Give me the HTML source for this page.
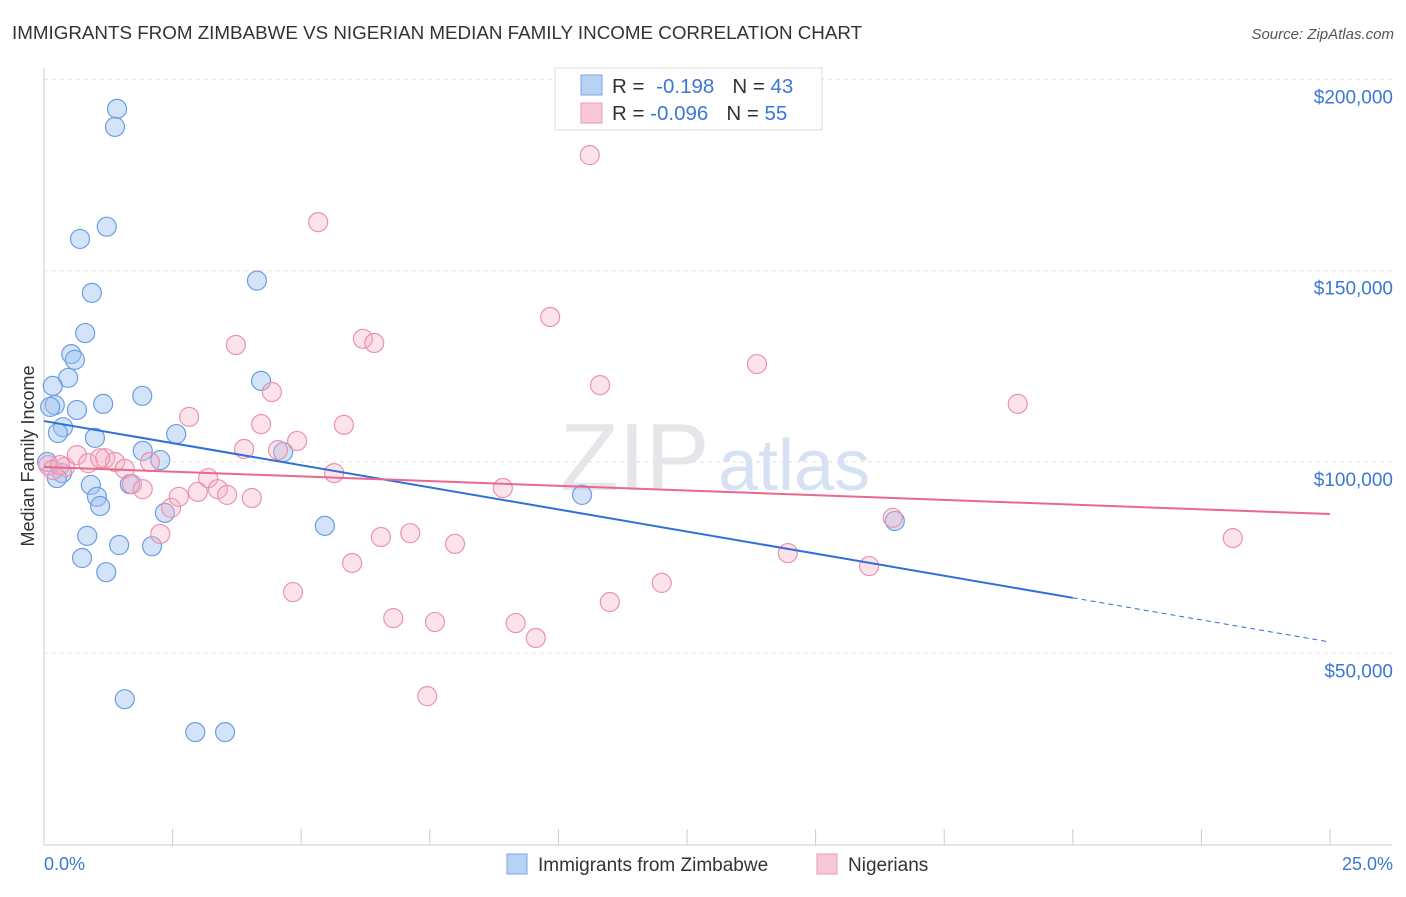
<!DOCTYPE html>
<html><head><meta charset="utf-8"><style>
body{margin:0;background:#fff;font-family:"Liberation Sans",sans-serif}
svg text{font-family:"Liberation Sans",sans-serif}
</style></head><body>
<svg id="chart" width="1406" height="892" viewBox="0 0 1406 892">
<text x="12" y="39" font-size="18.8" fill="#333">IMMIGRANTS FROM ZIMBABWE VS NIGERIAN MEDIAN FAMILY INCOME CORRELATION CHART</text>
<text x="1394" y="39" font-size="15" fill="#555" font-style="italic" text-anchor="end">Source: ZipAtlas.com</text>
<text x="560" y="490" font-size="96" fill="#e6e6ea" font-family="Liberation Serif">ZIP</text>
<text x="718" y="490" font-size="72" fill="#d6e2f4">atlas</text>
<g id="grid"></g>
<g id="axes"></g>
<g id="pts"></g>
<g id="lines"></g>
<text transform="translate(34,456) rotate(-90)" font-size="18" fill="#333" text-anchor="middle">Median Family Income</text>
<text x="44" y="870" font-size="18" fill="#3a78d4">0.0%</text>
<text x="1393" y="870" font-size="18" fill="#3a78d4" text-anchor="end">25.0%</text>
<g>
<rect x="555" y="68" width="267" height="62" fill="#fff" stroke="#ddd"/>
<rect x="581" y="75" width="21" height="20" fill="#b8d2f4" stroke="#7aa6e4"/>
<rect x="581" y="103" width="21" height="20" fill="#f9c8d6" stroke="#ec9ab3"/>
<text x="612" y="93" font-size="20.5" fill="#333">R = <tspan fill="#3a78d4" dx="6">-0.198</tspan><tspan fill="#333" dx="18">N = </tspan><tspan fill="#3a78d4">43</tspan></text>
<text x="612" y="120" font-size="20.5" fill="#333">R = <tspan fill="#3a78d4">-0.096</tspan><tspan fill="#333" dx="18">N = </tspan><tspan fill="#3a78d4">55</tspan></text>
</g>
<g>
<rect x="507" y="854" width="20" height="20" fill="#b8d2f4" stroke="#7aa6e4"/>
<text x="538" y="871" font-size="19" fill="#333">Immigrants from Zimbabwe</text>
<rect x="817" y="854" width="20" height="20" fill="#f9c8d6" stroke="#ec9ab3"/>
<text x="848" y="871" font-size="19" fill="#333">Nigerians</text>
</g>
</svg>
<script>
const yTicks=[50000,100000,150000,200000];
const yTickLabels=["$50,000","$100,000","$150,000","$200,000"];
const xTicks=[0,2.5,5,7.5,10,12.5,15,17.5,20,22.5,25];
const blueX=[1.42,1.38,1.22,0.70,0.93,4.14,0.80,0.53,0.60,0.47,0.17,0.21,0.12,0.64,1.15,1.91,0.37,0.27,0.99,2.57,4.22,4.65,1.92,2.26,0.35,0.25,0.91,1.03,1.09,1.67,2.35,5.46,0.84,0.74,1.46,2.10,1.21,1.57,2.94,3.52,10.46,16.54,0.06];
const blueY=[192.3,187.6,161.5,158.3,144.2,147.4,133.7,128.2,126.7,122.0,119.9,114.9,114.4,113.6,115.2,117.3,109.1,107.6,106.3,107.3,121.2,102.6,102.9,100.5,97.1,95.8,94.0,90.9,88.5,94.2,86.7,83.3,80.7,74.9,78.3,78.0,71.2,38.0,29.4,29.4,91.4,84.6,100.0];
const pinkX=[0.08,0.17,0.41,0.64,0.86,1.19,1.38,1.57,1.71,1.92,2.06,2.26,2.47,2.62,2.82,2.99,3.19,3.38,3.56,3.73,3.89,4.04,4.22,4.43,4.55,4.92,4.84,5.33,5.64,5.83,5.99,6.20,6.42,6.55,6.79,7.12,7.45,7.60,7.99,8.92,9.17,9.56,9.84,10.61,10.81,11.00,12.01,13.86,14.46,16.04,16.50,18.93,23.11,1.09,0.31];
const pinkY=[99.2,97.9,98.7,101.8,99.7,101.0,100.0,98.2,94.2,92.9,100.0,81.2,88.0,90.9,111.8,92.2,95.8,92.9,91.4,130.6,103.4,90.6,109.9,118.3,103.1,105.5,66.0,162.7,97.1,109.7,73.6,132.2,131.1,80.4,59.2,81.4,38.8,58.2,78.6,93.2,57.9,54.0,137.9,180.2,120.1,63.4,68.4,125.6,76.2,72.8,85.4,115.2,80.1,101.0,99.2];
const blueTrend=[110.7,-2.31];
const pinkTrend=[98.7,-0.492];
const NS="http://www.w3.org/2000/svg";
const xs=v=>44+v/25*1286;
const ys=v=>462-(v-100000)*191.3/50000;
function mk(p,t,a){const e=document.createElementNS(NS,t);for(const k in a)e.setAttribute(k,a[k]);p.appendChild(e);return e;}
const grid=document.getElementById('grid'),axes=document.getElementById('axes'),pts=document.getElementById('pts'),lines=document.getElementById('lines');
yTicks.forEach((v,i)=>{
 const l=mk(grid,'line',{x1:44,x2:1392,y1:ys(v),y2:ys(v),stroke:'#e2e2e2','stroke-dasharray':'4 4'});
 
 
 const t=mk(grid,'text',{x:1393,y:ys(v)+24,'font-size':19,fill:'#3a78d4','text-anchor':'end'});
 t.textContent=yTickLabels[i];
 
 
});
const ax=mk(axes,'line',{x1:44,x2:1392,y1:845,y2:845,stroke:'#ccc'});


const ay=mk(axes,'line',{x1:44,x2:44,y1:68,y2:845,stroke:'#ccc'});


xTicks.forEach(v=>{
 const t=mk(axes,'line',{x1:xs(v),x2:xs(v),y1:829,y2:845,stroke:'#ccc'});
 
 
});
function dots(X,Y,fill,stroke,name){
 X.forEach((x,i)=>{
  const c=mk(pts,'circle',{cx:xs(x),cy:ys(Y[i]*1000),r:9.5,fill:fill,stroke:stroke,'stroke-width':1.2});
  
  
 });
}
dots(blueX,blueY,'rgba(160,195,240,0.45)','#6d9de2','point-zimbabwe');
dots(pinkX,pinkY,'rgba(245,175,198,0.35)','#ea93ae','point-nigerian');
const bt=x=>(blueTrend[0]+blueTrend[1]*x)*1000, pt=x=>(pinkTrend[0]+pinkTrend[1]*x)*1000;
const b1=mk(lines,'line',{x1:xs(0),y1:ys(bt(0)),x2:xs(20),y2:ys(bt(20)),stroke:'#2f6fd6','stroke-width':2});


const b2=mk(lines,'line',{x1:xs(20),y1:ys(bt(20)),x2:xs(25),y2:ys(bt(25)),stroke:'#2f6fd6','stroke-width':1,'stroke-dasharray':'5 4'});


const p1=mk(lines,'line',{x1:xs(0),y1:ys(pt(0)),x2:xs(25),y2:ys(pt(25)),stroke:'#e86892','stroke-width':2});


</script>
</body></html>
